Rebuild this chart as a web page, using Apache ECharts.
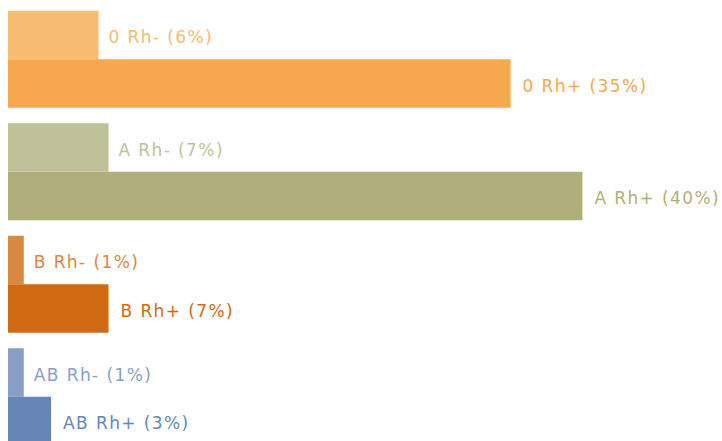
<!DOCTYPE html>
<html>
<head>
<meta charset="utf-8">
<script src="https://cdn.jsdelivr.net/npm/echarts@6/dist/echarts.min.js"></script>
<style>html,body{margin:0;padding:0;background:#fff;}#c{width:722px;height:441px;}#c text{letter-spacing:1.4px;}</style>
</head>
<body>
<div id="c"></div>
<script>
const groups = ['0', 'A', 'B', 'AB'];
const rhNeg = [6.3, 7, 1.1, 1.1];
const rhPos = [35, 40, 7, 3];
const negColors = ['#F8BB72', '#BFC298', '#D9893F', '#8A9EC5'];
const posColors = ['#F5A84E', '#B0AF7C', '#D06A12', '#6686B8'];

function mk(vals, colors, sign) {
  return vals.map((v, i) => ({
    value: v,
    itemStyle: { color: colors[i] },
    label: { color: colors[i] },
    name: groups[i] + ' Rh' + sign + ' (' + Math.round(v) + '%)'
  }));
}

const chart = echarts.init(document.getElementById('c'), null, { renderer: 'svg' });
chart.setOption({
  animation: false,
  grid: { left: 8, top: 3, width: 718, height: 450, outerBoundsMode: 'none', containLabel: false },
  xAxis: { type: 'value', min: 0, max: 50, show: false },
  yAxis: { type: 'category', data: groups, inverse: true, show: false },
  series: [
    {
      type: 'bar', data: mk(rhNeg, negColors, '-'), barWidth: 48.5, barGap: '0%',
      label: { show: true, position: 'right', distance: 10, offset: [0, 2], fontSize: 17, fontFamily: 'DejaVu Sans',
        formatter: p => p.data.name }
    },
    {
      type: 'bar', data: mk(rhPos, posColors, '+'), barWidth: 48.5, barGap: '0%',
      label: { show: true, position: 'right', distance: 12, offset: [0, 2], fontSize: 17, fontFamily: 'DejaVu Sans',
        formatter: p => p.data.name }
    }
  ]
});
</script>
</body>
</html>
